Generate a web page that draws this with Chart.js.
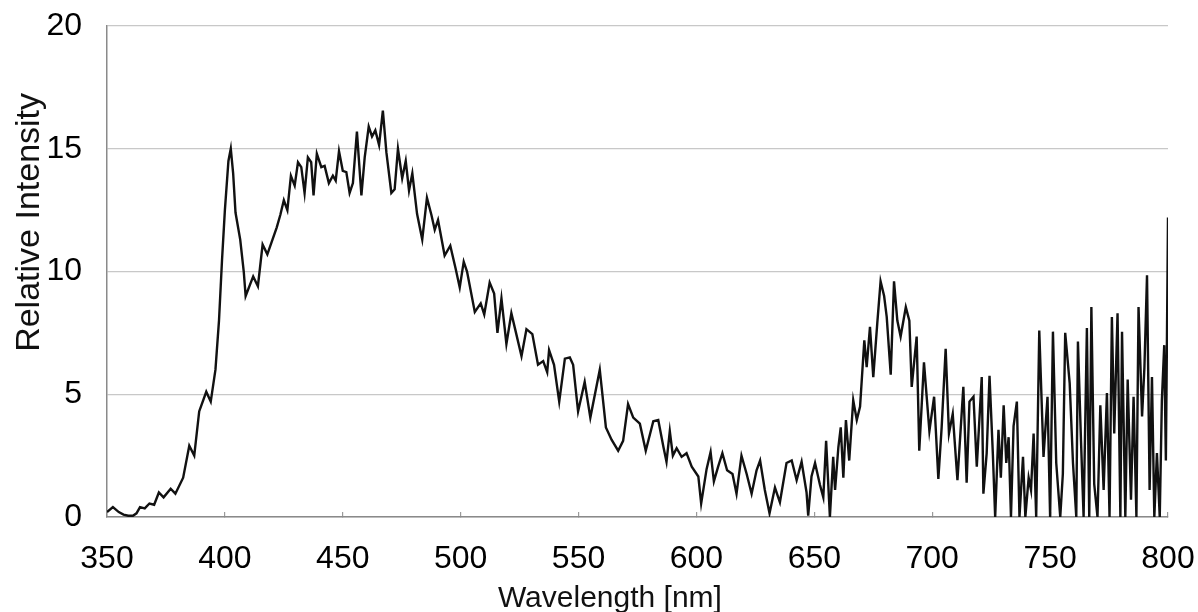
<!DOCTYPE html>
<html>
<head>
<meta charset="utf-8">
<script src="https://cdn.jsdelivr.net/npm/chart.js@4.4.1/dist/chart.umd.min.js"></script>
<style>
  html, body { margin: 0; padding: 0; background: #fff; }
  #wrap { width: 1198px; height: 612px; position: relative; }
</style>
</head>
<body>
<div id="wrap"><canvas id="spectrum"></canvas></div>
<script>
// wavelength (nm) and relative intensity
const wavelengths = [
  350, 352.5, 355, 357, 359, 361, 362.5, 364, 366, 368, 370, 372, 374, 377, 379,
  382.3, 384.9, 387, 389.1, 392.1, 394, 396, 397.5, 398.8, 400, 401.5, 402.5, 403.5,
  404.5, 406.5, 408, 408.8, 412, 414, 416, 418, 422, 423.5, 425, 426.5, 428, 429.6,
  431, 432.4, 433.8, 435.2, 436.6, 437.6, 439, 440.9, 442.3, 444.1, 445.8, 447, 448.4,
  450, 451.5, 452.9, 454.3, 456, 457.9, 459.3, 461, 462.4, 463.8, 465.4, 467, 468.5,
  470.6, 472, 473.4, 475.2, 476.7, 478.1, 479.5, 481.5, 483.7, 485.7, 487.6, 489,
  490.4, 493.2, 495.6, 497.9, 499.6, 501.3, 502.7, 506, 508.5, 510, 512.3, 514.2,
  515.6, 517.3, 519.4, 521.5, 523.6, 525.8, 527.9, 530.4, 532.8, 535, 536.7, 537.5,
  539.6, 541.8, 544.2, 546.3, 547.7, 549.8, 552.6, 555, 559, 561.6, 564, 566.8, 568.9,
  571, 573.2, 576, 578.5, 581.7, 583.8, 586, 587.3, 588.7, 590, 591.6, 593.7, 595.8,
  598, 600.8, 602, 604.3, 606, 607.4, 609.2, 611, 613, 615.3, 617, 619.1, 621.3,
  623.4, 625.5, 627, 629, 631, 633.3, 635.4, 638.2, 640.4, 642.5, 644.6, 646.7,
  647.4, 648.8, 650.3, 652.4, 653.8, 655, 656.6, 658, 658.8, 660.2, 661.2, 662.3,
  663.4, 664.8, 666.5, 668, 669.4, 671.2, 672.2, 673.6, 675, 676.7, 678.1, 679.6,
  680.7, 682.4, 683.8, 685.2, 686.6, 688.8, 690.3, 691.3, 693.4, 694.5, 696.5, 698.8,
  700.8, 702.6, 704, 705.7, 707.1, 708.7, 710.7, 713.2, 714.6, 715.8, 717.5, 718.9,
  721, 721.7, 723.1, 724.3, 725.7, 726.7, 728.1, 729.1, 730.3, 731.4, 732.4, 733.4,
  734.5, 735.9, 737, 738.5, 739.5, 740.9, 741.9, 743, 744.1, 745.4, 747.2, 748.9,
  750, 751.2, 752.6, 754.3, 755.4, 756.4, 758.3, 759.7, 761.1, 761.8, 763.1, 764.2,
  765.6, 766.6, 767.5, 768.7, 770.1, 771.3, 772.7, 774.1, 775.2, 776.2, 777.2, 778.6,
  779.8, 780.5, 781.9, 782.9, 784.3, 785.4, 786.6, 787.5, 789, 790, 791.1, 792.2,
  793.2, 794.2, 795.3, 796.5, 797.4, 798.4, 799.1, 800
];
const intensity = [
  0.2, 0.4, 0.2, 0.1, 0.05, 0.05, 0.15, 0.4, 0.35, 0.55, 0.5, 1.0, 0.8, 1.15, 0.95,
  1.6, 2.9, 2.5, 4.3, 5.1, 4.7, 6.0, 8.0, 10.5, 12.5, 14.5, 15.0, 14.0,
  12.4, 11.3, 10.0, 9.0, 9.8, 9.4, 11.1, 10.7, 11.8, 12.3, 12.9, 12.5, 13.9, 13.5,
  14.45, 14.25, 13.2, 14.65, 14.45, 13.1, 14.8, 14.25, 14.3, 13.6, 13.9, 13.7, 14.9,
  14.1, 14.05, 13.2, 13.6, 15.7, 13.1, 14.65, 15.9, 15.5, 15.75, 15.15, 16.55, 14.85,
  13.2, 13.35, 15.0, 13.8, 14.5, 13.3, 14.0, 12.35, 11.3, 13.0, 12.3, 11.7,
  12.1, 10.65, 11.05, 10.1, 9.35, 10.4, 10.0, 8.35, 8.7, 8.25, 9.55, 9.1,
  7.5, 8.9, 7.05, 8.3, 7.45, 6.55, 7.65, 7.45, 6.2, 6.35, 5.9, 6.8,
  6.2, 4.7, 6.45, 6.5, 6.2, 4.3, 5.5, 4.05, 6.0, 3.65, 3.15, 2.7, 3.1,
  4.6, 4.05, 3.8, 2.7, 3.9, 3.95, 2.85, 2.25, 3.5, 2.5, 2.8, 2.45, 2.6,
  2.05, 1.65, 0.55, 1.95, 2.65, 1.45, 2.05, 2.6, 1.9, 1.75, 0.95, 2.5, 1.75,
  0.95, 1.9, 2.3, 1.1, 0.15, 1.2, 0.6, 2.2, 2.3, 1.5, 2.25, 1.0,
  0.05, 1.65, 2.2, 1.3, 0.8, 3.1, 0, 2.45, 1.1, 2.85, 3.65, 1.6,
  3.95, 2.3, 4.75, 3.95, 4.5, 7.2, 6.1, 7.75, 5.7, 7.9, 9.6, 9.0,
  8.15, 5.8, 9.6, 8.0, 7.35, 8.55, 8.0, 5.3, 7.35, 2.7, 6.3, 3.5,
  4.9, 1.55, 3.65, 6.85, 3.4, 4.2, 1.5, 5.3, 1.4, 4.7, 4.9, 2.05,
  5.7, 0.95, 2.6, 5.75, 2.6, 0, 3.55, 1.6, 4.55, 2.2, 3.25, 0,
  3.7, 4.7, 0, 2.45, 0, 1.6, 1.1, 3.4, 0, 7.6, 2.45, 4.9,
  0, 7.55, 2.2, 0, 1.75, 7.5, 5.45, 2.2, 0, 7.15, 3.1, 0,
  7.7, 0, 8.55, 1.35, 0, 4.55, 1.1, 5.05, 0, 8.15, 3.4, 8.3,
  0, 7.55, 0, 5.6, 0.7, 4.9, 0, 8.55, 4.1, 6.1, 9.85, 1.1,
  5.7, 0, 2.6, 0, 4.75, 7.0, 2.3, 12.2
];
const xRange = [350, 800];
const yRange = [0, 20];

const FONT = "'Liberation Sans', Arial, sans-serif";

// axis titles drawn by hand so they sit where the original has them
const axisTitles = {
  id: "axisTitles",
  afterDraw(chart) {
    const { ctx, chartArea } = chart;
    ctx.save();
    ctx.fillStyle = "#111";
    ctx.textAlign = "center";
    ctx.textBaseline = "alphabetic";
    ctx.font = "30px " + FONT;
    ctx.fillText("Wavelength [nm]", chartArea.left + (chartArea.right - chartArea.left) * 0.474, 607);
    ctx.translate(38.5, chartArea.top + (chartArea.bottom - chartArea.top) * 0.4);
    ctx.rotate(-Math.PI / 2);
    ctx.font = "34px " + FONT;
    ctx.fillText("Relative Intensity", 0, 0);
    ctx.restore();
  }
};

// drop the label overhang padding so layout.padding alone sets the plot box
function noOverhang(s) {
  s.paddingTop = 0;
  s.paddingBottom = 0;
  s.paddingLeft = 0;
  s.paddingRight = 0;
}

const points = wavelengths.map((w, i) => ({ x: w, y: intensity[i] }));

new Chart(document.getElementById("spectrum"), {
  type: "line",
  data: {
    datasets: [{
      data: points,
      borderColor: "#111",
      borderWidth: 2.4,
      pointRadius: 0,
      tension: 0,
      fill: false
    }]
  },
  options: {
    responsive: true,
    maintainAspectRatio: false,
    animation: false,
    layout: { padding: { left: 0, top: 26, right: 30, bottom: 0 } },
    plugins: { legend: { display: false }, tooltip: { enabled: false } },
    scales: {
      x: {
        type: "linear",
        min: xRange[0],
        max: xRange[1],
        afterFit: (s) => { s.height = 95; noOverhang(s); },
        // short tick marks pointing up into the plot
        grid: { display: true, drawOnChartArea: false, drawTicks: true, tickLength: -5, color: "#9a9a9a", lineWidth: 1.2 },
        border: { display: true, color: "#8a8a8a", width: 1.5 },
        ticks: {
          stepSize: 50,
          padding: 28,
          color: "#000",
          font: { family: FONT, size: 32 }
        }
      },
      y: {
        min: yRange[0],
        max: yRange[1],
        afterFit: (s) => { s.width = 107; noOverhang(s); },
        grid: { color: "#c8c8c8", lineWidth: 1.2, drawTicks: false },
        border: { display: true, color: "#8a8a8a", width: 1.5 },
        ticks: {
          stepSize: 5,
          padding: 25,
          color: "#000",
          font: { family: FONT, size: 32 }
        }
      }
    }
  },
  plugins: [axisTitles]
});
</script>
</body>
</html>
